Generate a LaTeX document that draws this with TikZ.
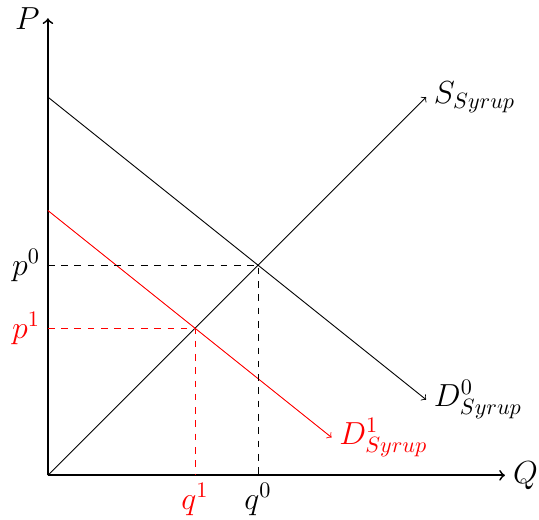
\documentclass[tikz,border=0pt]{standalone}
\begin{document}
\begin{tikzpicture}[x=1cm,y=1cm,font=\Large]
\useasboundingbox (-0.76,-0.70) rectangle (7.79,7.54);
\coordinate (O) at (0,0);
\coordinate (E0) at (10/3,10/3);
\coordinate (E1) at (7/3,7/3);
\coordinate (p0c) at (0,10/3);
\coordinate (q0c) at (10/3,0);
\coordinate (p1c) at (0,7/3);
\coordinate (q1c) at (7/3,0);
\draw[thick,->] (O)--(0,7.25) node[left] (P) {$P$};
\draw[thick,->] (O)--(7.25,0) node[right] (Q) {$Q$};
\draw[->] (O)--(6,6) node[right] (S) {$S_{Syrup}$};
\draw[->] (0,6)--(6,1.2) node[right] (D0) {$D^0_{Syrup}$};
\draw[red,->] (0,4.2)--(4.5,0.6);
\node[right,red] (D1) at (4.5,0.6) {$D^1_{Syrup}$};
% dashed guides
\draw[dashed] (p0c) -- (E0) -- (q0c);
\draw[red,dashed] (p1c) -- (E1) -- (q1c);
\node[left] (p0) at (p0c) {$p^0$};
\node[below] (q0) at (q0c) {$q^0$};
\node[left,red] (p1) at (p1c) {$p^1$};
\node[below,red] (q1) at (q1c) {$q^1$};
\end{tikzpicture}
\end{document}
